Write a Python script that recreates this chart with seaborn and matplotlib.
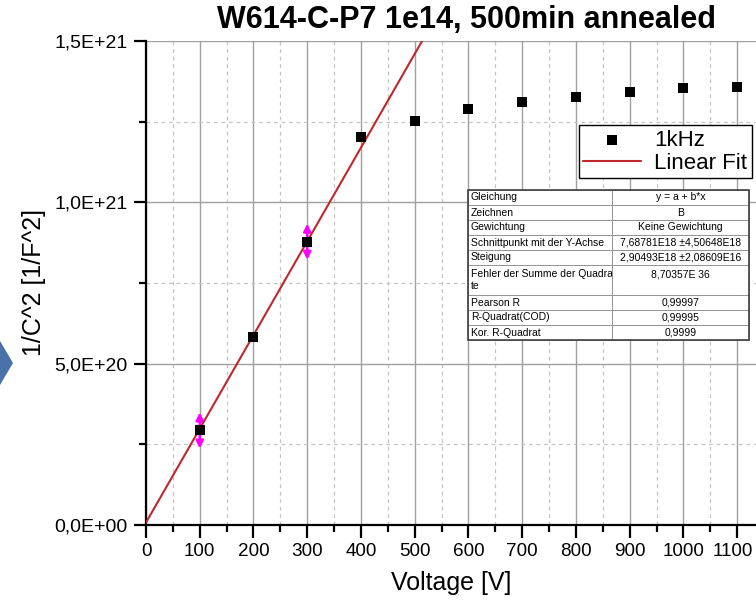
import numpy as np
import pandas as pd
import matplotlib
matplotlib.use("Agg")
import matplotlib.pyplot as plt
import matplotlib.transforms as mtransforms
import seaborn as sns
from matplotlib.ticker import MultipleLocator, FuncFormatter
from matplotlib.patches import Polygon, Rectangle

# ---- data ----
voltage = [100, 200, 300, 400, 500, 600, 700, 800, 900, 1000, 1100]
inv_c2 = [2.93e20, 5.83e20, 8.78e20, 1.201e21, 1.251e21, 1.288e21,
          1.310e21, 1.325e21, 1.341e21, 1.353e21, 1.356e21]
fit_intercept = 7.68781e18
fit_slope = 2.90493e18
fit_range = [0, 530]
flagged_voltages = [100, 300]

table_labels = ["Gleichung", "Zeichnen", "Gewichtung", "Schnittpunkt mit der Y-Achse",
                "Steigung", "Fehler der Summe der Quadra\nte", "Pearson R",
                "R-Quadrat(COD)", "Kor. R-Quadrat"]
table_values = ["y = a + b*x", "B", "Keine Gewichtung",
                "7,68781E18 \u00b14,50648E18", "2,90493E18 \u00b12,08609E16",
                "8,70357E 36\n ", "0,99997", "0,99995", "0,9999"]

title = "W614-C-P7 1e14, 500min annealed"
xlabel = "Voltage [V]"
ylabel = "1/C^2 [1/F^2]"

sns.set_theme(style="white")
plt.rcParams['font.family'] = ['Liberation Sans', 'DejaVu Sans']
plt.rcParams.update({"text.color": "black", "axes.labelcolor": "black",
                     "xtick.color": "black", "ytick.color": "black"})

fig = plt.figure(figsize=(7.56, 6.04), dpi=100)
ax = fig.add_axes([146/756, 1-525/604, 610/756, 484/604])

df = pd.DataFrame({"Voltage": voltage, "invC2": inv_c2})
fit_df = pd.DataFrame({"Voltage": fit_range,
                       "invC2": [fit_intercept + fit_slope*v for v in fit_range]})

sns.lineplot(data=fit_df, x="Voltage", y="invC2", ax=ax, color="#c0272d", lw=1.5,
             label="Linear Fit", zorder=3)
# magenta arrows on flagged points
for v in flagged_voltages:
    yv = inv_c2[voltage.index(v)]
    for dy in (13, -13):
        ax.annotate("", xy=(v, yv), xytext=(0, dy), textcoords="offset points",
                    arrowprops=dict(arrowstyle="<|-", color="#ff00ff", lw=1.8,
                                    mutation_scale=11, shrinkA=0, shrinkB=0),
                    zorder=2)
sns.scatterplot(data=df, x="Voltage", y="invC2", ax=ax, marker="s", s=60,
                color="black", edgecolor="black", linewidth=0, label="1kHz", zorder=4)

ax.set_xlim(0, 1135)
ax.set_ylim(0, 1.5e21)

ax.xaxis.set_major_locator(MultipleLocator(100))
ax.xaxis.set_minor_locator(MultipleLocator(50))
ax.yaxis.set_major_locator(MultipleLocator(5e20))
ax.yaxis.set_minor_locator(MultipleLocator(2.5e20))

def yfmt(v, pos):
    if v == 0:
        return "0,0E+00"
    e = int(np.floor(np.log10(abs(v))))
    m = v / 10**e
    return f"{m:.1f}".replace(".", ",") + f"E+{e:02d}"

ax.yaxis.set_major_formatter(FuncFormatter(yfmt))

ax.grid(which="major", color="#a0a0a0", lw=1.0, ls="-")
ax.grid(which="minor", color="#c4c4c4", lw=0.9, ls=(0, (3, 3)))
ax.set_axisbelow(True)

for s in ["top", "right"]:
    ax.spines[s].set_visible(False)
for s in ["left", "bottom"]:
    ax.spines[s].set_color("black")
    ax.spines[s].set_linewidth(1.6)

ax.tick_params(axis="both", which="major", direction="out", length=9, width=1.6,
               color="black", labelsize=14, pad=4, bottom=True, left=True)
ax.tick_params(axis="both", which="minor", direction="out", length=5, width=1.6,
               color="black", bottom=True, left=True)
ax.tick_params(axis="x", which="major", labelsize=13.6)

ax.set_xlabel(xlabel, fontsize=18, labelpad=8)
ax.set_ylabel(ylabel, fontsize=18, labelpad=6)

fig.text(467/756, 1-20/604, title, ha="center", va="center", fontsize=22,
         fontweight="bold")

handles, labels = ax.get_legend_handles_labels()
order = [labels.index("1kHz"), labels.index("Linear Fit")]
leg = ax.legend([handles[i] for i in order], [labels[i] for i in order],
                loc="upper right", bbox_to_anchor=(0.993, 0.826), fontsize=16,
                frameon=True, fancybox=False, edgecolor="black", framealpha=1,
                borderpad=0.2, handlelength=2.6, handletextpad=0.6, labelspacing=0.1,
                borderaxespad=0)
leg.get_frame().set_linewidth(1.0)

# results table
cell_text = [[l, v] for l, v in zip(table_labels, table_values)]
tx0, tx1, ty0, ty1 = 468, 749, 190, 340
tbl = ax.table(cellText=cell_text, cellLoc="center", colWidths=[0.236, 0.225],
               bbox=[(tx0-146)/610, (525-ty1)/484, (tx1-tx0)/610, (ty1-ty0)/484],
               zorder=6)
tbl.auto_set_font_size(False)
for (r, c), cell in tbl.get_celld().items():
    cell.set_edgecolor("#8a8a8a")
    cell.set_linewidth(0.6)
    cell.set_facecolor("white")
    cell.get_text().set_fontsize(7.5)
    cell.PAD = 0.02
    if r == 5:
        cell.set_height(cell.get_height() * 2.0)
    if c == 0:
        cell._loc = "left"
        cell.get_text().set_ha("left")
# outer border
ax.add_patch(Rectangle(((tx0-146)/610*1135, (525-ty1)/484*1.5e21),
                       (tx1-tx0)/610*1135, (ty1-ty0)/484*1.5e21,
                       fill=False, edgecolor="#404040", lw=1.2, zorder=7))

# decorative blue arrow at left edge
fig.patches.append(Polygon([(0, 1-341/604), (13/756, 1-363/604), (0, 1-385/604)],
                           closed=True, transform=fig.transFigure,
                           facecolor="#4a72aa", edgecolor="none"))

# keep the last x tick label inside the figure
fig.canvas.draw()
last = [t for t in ax.get_xticklabels() if t.get_text() == "1100"]
for t in last:
    t.set_transform(t.get_transform() +
                    mtransforms.ScaledTranslation(-4/100, 0, fig.dpi_scale_trans))

fig.savefig("out.png", dpi=100)
